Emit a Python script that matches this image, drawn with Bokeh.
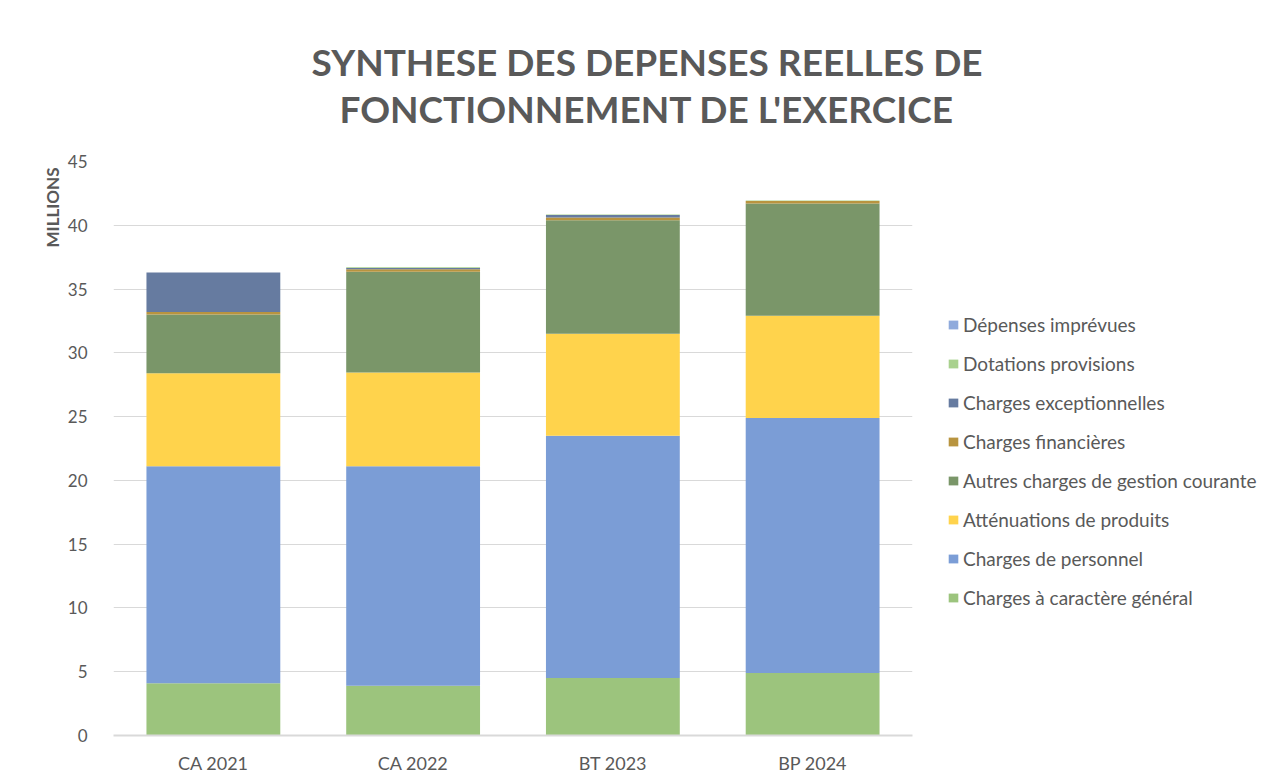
from bokeh.plotting import figure
from bokeh.models import (ColumnDataSource, FactorRange, Range1d, Legend, LegendItem, Title,
                          ColorBar, LinearColorMapper, FixedTicker)
from bokeh.embed import file_html
from bokeh.resources import INLINE

categories = ["CA 2021", "CA 2022", "BT 2023", "BP 2024"]
charges_generales = [4.1, 3.9, 4.5, 4.9]
charges_personnel = [17.0, 17.2, 19.0, 20.0]
attenuations = [7.3, 7.35, 8.0, 8.0]
autres_charges = [4.6, 7.9, 8.9, 8.8]
charges_financieres = [0.2, 0.2, 0.2, 0.2]
charges_exceptionnelles = [3.1, 0.1, 0.2, 0.0]
dotations = [0.0, 0.05, 0.05, 0.05]
depenses_imprevues = [0.0, 0.0, 0.0, 0.0]

series_keys = ["gen", "pers", "att", "autres", "fin", "exc", "dot", "imp"]
series_names = ["Charges à caractère général", "Charges de personnel", "Atténuations de produits",
                "Autres charges de gestion courante", "Charges financières",
                "Charges exceptionnelles", "Dotations provisions", "Dépenses imprévues"]
series_colors = ["#9CC47D", "#7B9DD6", "#FFD34C", "#7A9669", "#B8943F", "#667BA0", "#A9D18E", "#8FAADC"]

title_line1 = "SYNTHESE DES DEPENSES REELLES DE"
title_line2 = "FONCTIONNEMENT DE L'EXERCICE"
y_label = "MILLIONS"

source = ColumnDataSource(data=dict(
    cat=categories, gen=charges_generales, pers=charges_personnel, att=attenuations,
    autres=autres_charges, fin=charges_financieres, exc=charges_exceptionnelles,
    dot=dotations, imp=depenses_imprevues))

TXT = "#595959"
FONT = "Lato"

p = figure(frame_width=799, frame_height=574, x_range=FactorRange(*categories),
           y_range=Range1d(0, 45), output_backend="svg", toolbar_location=None,
           title=title_line1, min_border_left=113, min_border_right=350,
           min_border_top=161, min_border_bottom=40)
p.outline_line_color = None

# fully transparent spacer between the title and the plot area
spacer = ColorBar(color_mapper=LinearColorMapper(palette=["#FFFFFF"], low=0, high=1),
                  orientation="horizontal", height=31, width=10, padding=0, margin=0,
                  scale_alpha=0, bar_line_color=None, border_line_color=None,
                  background_fill_alpha=0, ticker=FixedTicker(ticks=[]),
                  major_tick_line_color=None, minor_tick_line_color=None,
                  major_label_text_alpha=0)
p.add_layout(spacer, "above")

t2 = Title(text=title_line2, align="left", offset=226, text_color=TXT, text_font=FONT,
           text_font_style="bold", text_font_size="37px", standoff=0)
p.add_layout(t2, "above")

p.title.align = "left"
p.title.offset = 198
p.title.text_color = TXT
p.title.text_font = FONT
p.title.text_font_style = "bold"
p.title.text_font_size = "37px"
p.title.standoff = 0

renderers = p.vbar_stack(series_keys, x="cat", width=0.67, source=source,
                         color=series_colors, line_color=None)

p.xgrid.grid_line_color = None
p.ygrid.grid_line_color = "#D9D9D9"
p.ygrid.grid_line_width = 1
p.yaxis.ticker = list(range(0, 50, 5))
p.yaxis.axis_line_color = None
p.yaxis.major_tick_line_color = None
p.yaxis.minor_tick_line_color = None
p.yaxis.major_label_text_color = TXT
p.yaxis.major_label_text_font = FONT
p.yaxis.major_label_text_font_size = "17px"
p.yaxis.major_label_standoff = 20
p.below[0].axis_line_color = "#D9D9D9"
p.below[0].axis_line_width = 2
p.below[0].major_tick_line_color = None
p.below[0].minor_tick_line_color = None
p.below[0].major_label_text_color = TXT
p.below[0].major_label_text_font = FONT
p.below[0].major_label_text_font_size = "18px"
p.below[0].major_label_standoff = 10

ylab = Title(text=y_label, align="right", offset=6, text_color=TXT, text_font=FONT,
             text_font_style="bold", text_font_size="17px", standoff=4)
p.add_layout(ylab, "left")

items = [LegendItem(label=n, renderers=[r]) for n, r in zip(series_names, renderers)]
items.reverse()
legend = Legend(items=items, location=(35, 126), orientation="vertical",
                glyph_width=12, glyph_height=11, label_height=20, spacing=16,
                label_standoff=4, padding=0, margin=0, border_line_color=None,
                background_fill_alpha=0, label_text_color=TXT, label_text_font=FONT,
                label_text_font_size="19px")
p.add_layout(legend, "right")

open("out.html", "w").write(file_html(p, INLINE))
